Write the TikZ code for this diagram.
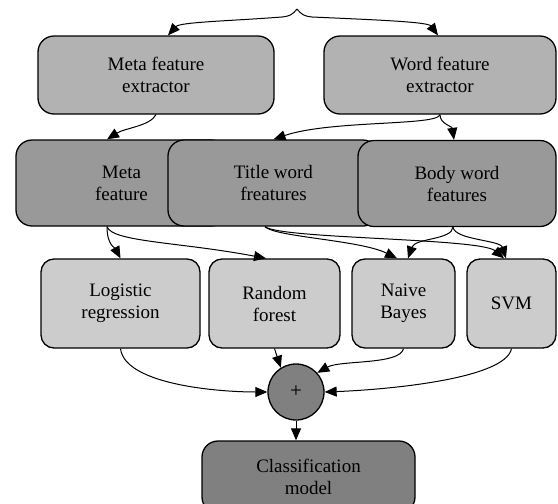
\documentclass[tikz,border=0pt]{standalone}
\usepackage{fontspec}
\setmainfont{Liberation Serif}
\usetikzlibrary{arrows.meta}
\begin{document}
\begin{tikzpicture}[x=1pt,y=-1pt,
  box/.style={draw,line width=1.3pt,align=center,inner sep=0pt,
    font=\fontsize{19}{22}\selectfont},
  extbox/.style={box,rounded corners=16pt,fill=gray!60,minimum height=78pt},
  featbox/.style={box,rounded corners=16pt,fill=gray!80,minimum height=86pt},
  clfbox/.style={box,rounded corners=13pt,fill=gray!40,minimum height=89pt},
  arr/.style={line width=1pt,-{Triangle[length=12pt,width=10pt]}}]
  \clip (0,0) rectangle (558,504);
  % extractors
  \node[extbox,minimum width=236pt] (mfx) at (156,75) {Meta feature\\extractor};
  \node[extbox,minimum width=232pt] (wfx) at (440,75) {Word feature\\extractor};
  % feature sets
  \node[featbox,minimum width=211pt] (mf) at (121.5,183) {Meta\\feature};
  \node[featbox,minimum width=211pt] (tw) at (273.5,183) {Title word\\freatures};
  \node[featbox,minimum width=198pt] (bw) at (457,183.5) {Body word\\features};
  % classifiers
  \node[clfbox,minimum width=159pt] (lr) at (120.5,303.5) {Logistic\\regression};
  \node[clfbox,minimum width=131pt] (rf) at (274.5,303.5) {Random\\forest};
  \node[clfbox,minimum width=103pt] (nb) at (403.5,303.5) {Naive\\Bayes};
  \node[clfbox,minimum width=89pt] (svm) at (511.5,303.5) {SVM};
  \node[circle,draw,line width=1.3pt,fill=gray,minimum size=56pt,inner sep=0pt,
    font=\fontsize{21}{21}\selectfont] (sum) at (296,392) {+};
  \node[box,rounded corners=16pt,fill=gray,minimum width=213pt,
    minimum height=72pt] (cm) at (308.5,477) {Classification\\model};
  % fork on top
  \coordinate (fork) at (297,9);
  \draw[arr] (fork) .. controls (292,15) and (290,16) .. (282,17)
    .. controls (230,21) and (180,22) .. ([xshift=12pt]mfx.north);
  \draw[arr] (fork) .. controls (302,15) and (304,16) .. (312,17)
    .. controls (380,20) and (428,22) .. ([xshift=-2pt]wfx.north);
  % extractors to features
  \draw[arr] (mfx.south) .. controls (150,126) and (125,128) .. ([xshift=-14.5pt]mf.north);
  \draw[arr] (wfx.south) .. controls (438,126) and (330,120) .. (tw.north);
  \draw[arr] (wfx.south) .. controls (440,124) and (452,126) .. ([xshift=-3pt]bw.north);
  % features to classifiers
  \draw[arr] ([xshift=-14.5pt]mf.south) .. controls (107,245) and (115,248) .. (lr.north);
  \draw[arr] ([xshift=-14.5pt]mf.south) .. controls (112,242) and (180,242) .. ([xshift=-8.5pt]rf.north);
  \draw[arr] ([xshift=-8.5pt]tw.south) .. controls (275,237) and (360,240) .. ([xshift=-6.5pt]nb.north);
  \draw[arr] ([xshift=-8.5pt]tw.south) .. controls (280,239) and (480,238) .. ([xshift=-7.5pt]svm.north);
  \draw[arr] ([xshift=-4pt]bw.south) .. controls (452,240) and (415,238) .. ([xshift=4.5pt]nb.north);
  \draw[arr] ([xshift=-4pt]bw.south) .. controls (455,240) and (500,240) .. ([xshift=-5.5pt]svm.north);
  % classifiers to sum
  \draw[arr] (lr.south) .. controls (125,385) and (220,392) .. (sum.west);
  \draw[arr] (rf.south) -- (sum.122);
  \draw[arr] (nb.south) .. controls (400,365) and (340,360) .. (sum.42);
  \draw[arr] (svm.south) .. controls (505,380) and (380,390) .. (sum.east);
  \draw[arr] (sum.south) -- (sum.south |- cm.north);
\end{tikzpicture}
\end{document}
